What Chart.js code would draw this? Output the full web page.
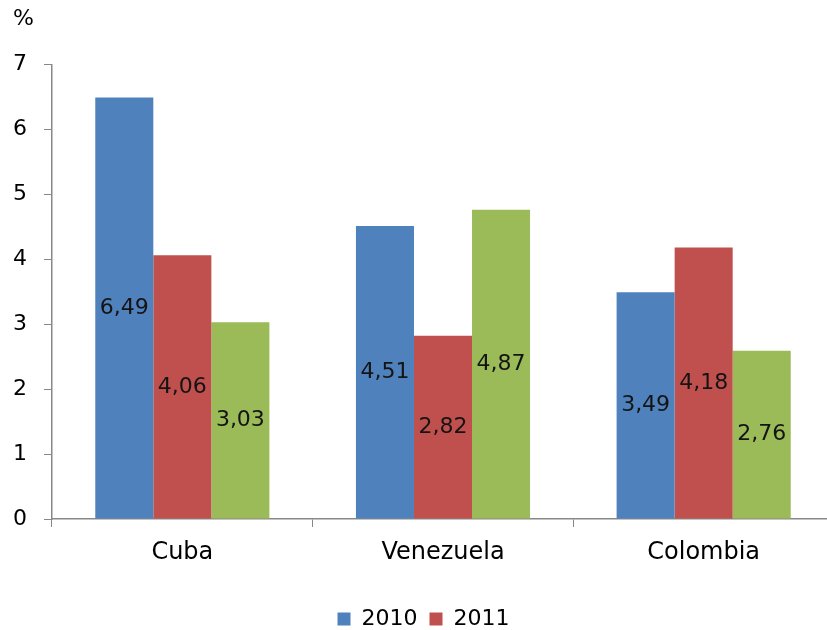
<!DOCTYPE html>
<html>
<head>
<meta charset="utf-8">
<script src="https://cdn.jsdelivr.net/npm/chart.js@4/dist/chart.umd.min.js"></script>
<style>
  html, body { margin: 0; padding: 0; background: #fff; overflow: hidden; }
  #wrap { width: 840px; height: 630px; position: relative; }
</style>
</head>
<body>
<div id="wrap"><canvas id="c"></canvas></div>
<script>
const categories = ['Cuba', 'Venezuela', 'Colombia'];
const values2010 = [6.49, 4.51, 3.49];
const values2011 = [4.06, 2.82, 4.18];
const valuesThird = [3.03, 4.76, 2.59];
const labels2010 = ['6,49', '4,51', '3,49'];
const labels2011 = ['4,06', '2,82', '4,18'];
const labelsThird = ['3,03', '4,87', '2,76'];
const yTicks = [0, 1, 2, 3, 4, 5, 6, 7];
const unitLabel = '%';

const FONT = '"DejaVu Sans", Verdana, sans-serif';

const dataLabelPlugin = {
  id: 'dataLabels',
  afterDatasetsDraw(chart) {
    const ctx = chart.ctx;
    ctx.save();
    ctx.font = '22px ' + FONT;
    ctx.textAlign = 'center';
    ctx.textBaseline = 'middle';
    ctx.fillStyle = '#141414';
    chart.data.datasets.forEach((ds, di) => {
      const meta = chart.getDatasetMeta(di);
      meta.data.forEach((bar, i) => {
        const p = bar.getCenterPoint();
        ctx.fillText(ds.valueLabels[i], p.x, p.y);
      });
    });
    ctx.restore();
  }
};

new Chart(document.getElementById('c'), {
  type: 'bar',
  data: {
    labels: categories,
    datasets: [
      { label: '2010', data: values2010, valueLabels: labels2010, backgroundColor: '#4F81BD' },
      { label: '2011', data: values2011, valueLabels: labels2011, backgroundColor: '#C0504D' },
      { label: '', data: valuesThird, valueLabels: labelsThird, backgroundColor: '#9BBB59' }
    ]
  },
  options: {
    responsive: true,
    maintainAspectRatio: false,
    animation: false,
    devicePixelRatio: 1,
    layout: { padding: { left: 13, right: 6, top: 0, bottom: -10 } },
    datasets: { bar: { barPercentage: 1.0, categoryPercentage: 0.668, borderWidth: 0 } },
    plugins: {
      title: {
        display: true, text: unitLabel, align: 'start', color: '#000',
        font: { family: FONT, size: 22, weight: 'normal' },
        padding: { top: 6, bottom: 32 }
      },
      legend: {
        position: 'bottom',
        labels: {
          filter: item => item.text !== '',
          boxWidth: 13, boxHeight: 13, color: '#000',
          font: { family: FONT, size: 22 },
          padding: 12
        }
      },
      tooltip: { enabled: false }
    },
    scales: {
      x: {
        offset: true,
        grid: { display: true, drawOnChartArea: false, offset: true, tickLength: 8, color: '#888' },
        border: { display: true, color: '#888', width: 1.5 },
        ticks: { color: '#000', font: { family: FONT, size: 24 }, padding: 11 },
        afterFit: s => { s.height = 77; }
      },
      y: {
        min: 0, max: 7,
        afterBuildTicks: axis => { axis.ticks = yTicks.map(v => ({ value: v })); },
        grid: { display: true, drawOnChartArea: false, tickLength: 8, color: '#888' },
        border: { display: true, color: '#888', width: 1.5 },
        ticks: { color: '#000', font: { family: FONT, size: 22 }, padding: 17 },
        afterFit: s => { s.width = 39; }
      }
    }
  },
  plugins: [dataLabelPlugin]
});
</script>
</body>
</html>
